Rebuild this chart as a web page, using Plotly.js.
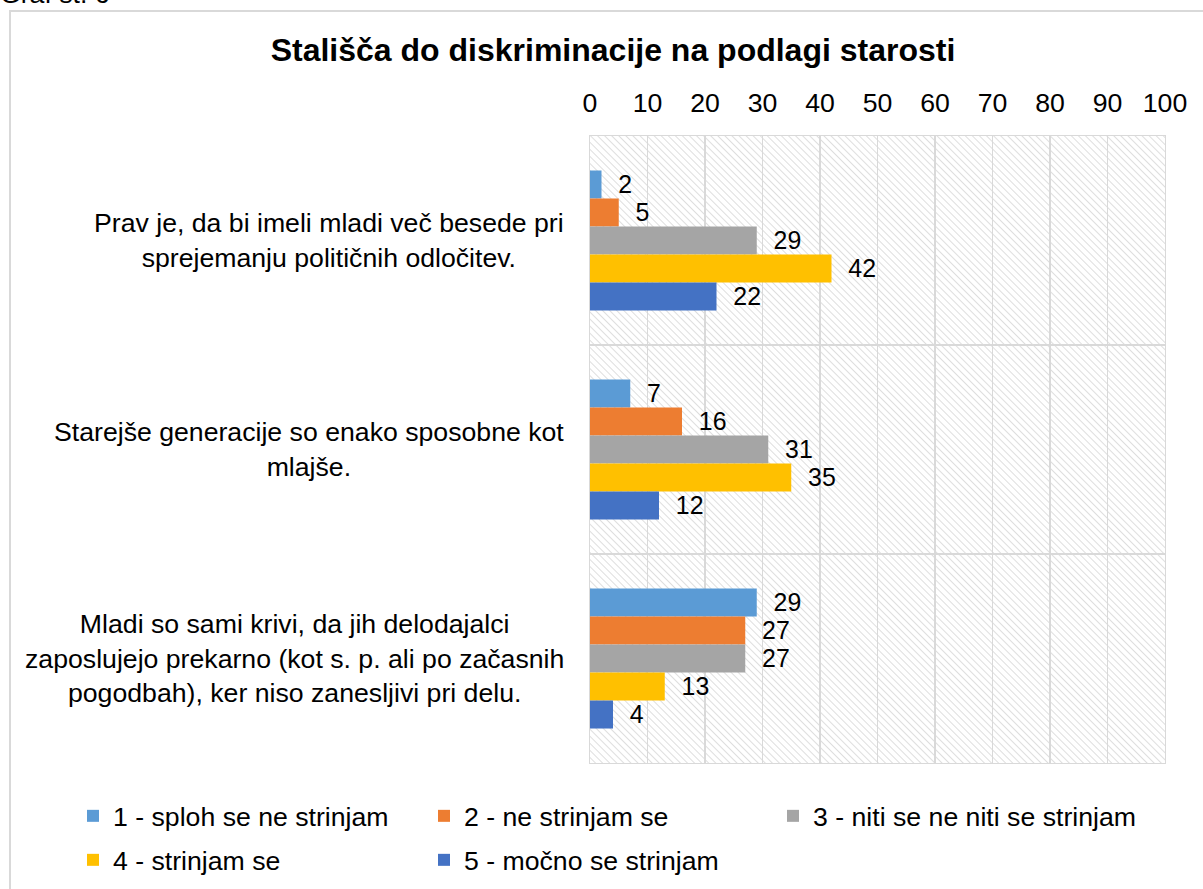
<!DOCTYPE html>
<html>
<head>
<meta charset="utf-8">
<script src="https://cdn.plot.ly/plotly-3.0.1.min.js"></script>
<style>
  html, body { margin: 0; padding: 0; background: #ffffff; overflow: hidden; }
  #frame { position: absolute; left: 9px; top: 10px; width: 1400px; height: 1100px; border: 2px solid #d9d9d9; box-sizing: border-box; }
  #caption { position: absolute; left: 0px; top: -19px; font-family: "Liberation Sans", Arial, sans-serif; font-size: 26.67px; line-height: 27px; color: #000; white-space: nowrap; }
  #chart { position: absolute; left: 0; top: 0; width: 1203px; height: 889px; }
</style>
</head>
<body>
<div id="frame"></div>
<div id="caption">Graf št. 6</div>
<div id="chart"></div>
<script>
// ---- data ----
const categories = [
  "Prav je, da bi imeli mladi več besede pri<br>sprejemanju političnih odločitev.",
  "Starejše generacije so enako sposobne kot<br>mlajše.",
  "Mladi so sami krivi, da jih delodajalci<br>zaposlujejo prekarno (kot s. p. ali po začasnih<br>pogodbah), ker niso zanesljivi pri delu."
];
const seriesNames = [
  "1 - sploh se ne strinjam",
  "2 - ne strinjam se",
  "3 - niti se ne niti se strinjam",
  "4 - strinjam se",
  "5 - močno se strinjam"
];
const s1 = [2, 7, 29];
const s2 = [5, 16, 27];
const s3 = [29, 31, 27];
const s4 = [42, 35, 13];
const s5 = [22, 12, 4];
const seriesValues = [s1, s2, s3, s4, s5];
const seriesColors = ["#5B9BD5", "#ED7D31", "#A5A5A5", "#FFC000", "#4472C4"];
const xTicks = [0, 10, 20, 30, 40, 50, 60, 70, 80, 90, 100];
const chartTitle = "Stališča do diskriminacije na podlagi starosti";

const FONT = '"Liberation Sans", Arial, sans-serif';
const catKeys = categories.map((c, i) => "c" + i);
const legendIds = ["legend", "legend2", "legend3", "legend4", "legend5"];

const traces = seriesValues.map((vals, i) => ({
  type: "bar",
  orientation: "h",
  name: seriesNames[i],
  y: catKeys,
  x: vals,
  marker: { color: seriesColors[i], line: { width: 0 } },
  text: vals.map(String),
  texttemplate: "\u00a0\u00a0%{text}",
  textposition: "outside",
  cliponaxis: false,
  textfont: { family: FONT, size: 26.67, color: "#000" },
  hoverinfo: "skip",
  legend: legendIds[i]
}));

// hatched plot background
const PW = 575, PH = 627;
const svg = `<svg xmlns="http://www.w3.org/2000/svg" width="${PW}" height="${PH}" viewBox="0 0 ${PW} ${PH}" preserveAspectRatio="none">
<defs><pattern id="h" patternUnits="userSpaceOnUse" width="5" height="5" patternTransform="rotate(-45)">
<rect width="5" height="5" fill="#ffffff"/><line x1="0" y1="0" x2="0" y2="5" stroke="#d6d6d6" stroke-width="1.6"/></pattern></defs>
<rect width="${PW}" height="${PH}" fill="url(#h)"/></svg>`;
const bgImg = "data:image/svg+xml;charset=utf-8," + encodeURIComponent(svg);

const annotations = categories.map((c, i) => ({
  xref: "paper", yref: "y",
  x: 0, y: catKeys[i],
  xshift: -24,
  xanchor: "right", yanchor: "middle",
  align: "center",
  showarrow: false,
  text: c,
  font: { family: FONT, size: 26.67, color: "#000" }
}));

// legend placement (one legend per entry: 3 on first row, 2 on second)
const legendCols = [73, 424, 773, 73, 424];
const legendRows = [816, 816, 816, 860, 860];

const layout = {
  width: 1203, height: 889,
  paper_bgcolor: "rgba(0,0,0,0)",
  plot_bgcolor: "rgba(0,0,0,0)",
  margin: { l: 590, r: 38, t: 136, b: 126, pad: 0, autoexpand: false },
  title: {
    text: "<b>" + chartTitle + "</b>",
    font: { family: FONT, size: 32, color: "#000" },
    xref: "container", yref: "container",
    x: 613 / 1203, xanchor: "center",
    y: 1 - 50 / 889, yanchor: "middle"
  },
  barmode: "group",
  bargap: 0.33,
  bargroupgap: 0,
  xaxis: {
    side: "top",
    range: [0, 100],
    tickvals: xTicks,
    ticktext: xTicks.map(String),
    showgrid: true, gridcolor: "#d9d9d9", gridwidth: 1.3,
    zeroline: false,
    showline: true, linecolor: "#d9d9d9", linewidth: 1.3, mirror: true,
    ticks: "", ticklabelstandoff: 12,
    tickfont: { family: FONT, size: 26.67, color: "#000" },
    automargin: false,
    fixedrange: true
  },
  yaxis: {
    type: "category",
    categoryorder: "array", categoryarray: catKeys,
    autorange: "reversed",
    tickson: "boundaries",
    showgrid: true, gridcolor: "#d9d9d9", gridwidth: 1.3,
    showline: true, linecolor: "#d9d9d9", linewidth: 1.3, mirror: true,
    ticks: "", showticklabels: false,
    zeroline: false,
    automargin: false,
    fixedrange: true
  },
  images: [{
    source: bgImg, xref: "paper", yref: "paper",
    x: 0, y: 1, sizex: 1, sizey: 1, sizing: "stretch",
    xanchor: "left", yanchor: "top", layer: "below"
  }],
  annotations: annotations,
  showlegend: true
};

legendIds.forEach((id, i) => {
  layout[id] = {
    orientation: "h", xref: "container", yref: "container",
    x: legendCols[i] / 1203, xanchor: "left",
    y: 1 - legendRows[i] / 889, yanchor: "middle",
    font: { family: FONT, size: 26.67, color: "#000" },
    bgcolor: "rgba(0,0,0,0)", borderwidth: 0
  };
});

Plotly.newPlot("chart", traces, layout, { staticPlot: true, displayModeBar: false });
</script>
</body>
</html>
